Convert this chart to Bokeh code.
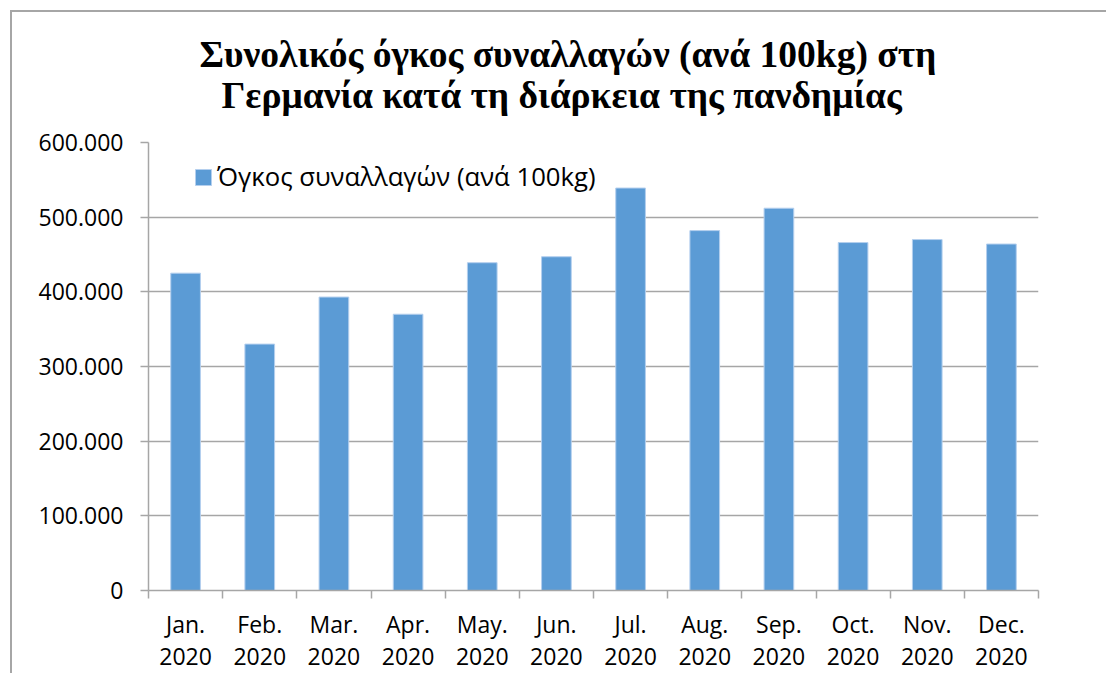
from bokeh.plotting import figure
from bokeh.models import FixedTicker, Range1d, ColumnDataSource, Title
from bokeh.embed import file_html
from bokeh.resources import INLINE

# ---- data ----
months = ["Jan.\n2020", "Feb.\n2020", "Mar.\n2020", "Apr.\n2020", "May.\n2020", "Jun.\n2020",
          "Jul.\n2020", "Aug.\n2020", "Sep.\n2020", "Oct.\n2020", "Nov.\n2020", "Dec.\n2020"]
volume = [425000, 330000, 393000, 370000, 439000, 447000,
          539000, 482000, 512000, 466000, 470000, 464000]
y_ticks = [0, 100000, 200000, 300000, 400000, 500000, 600000]
y_tick_labels = ["0", "100.000", "200.000", "300.000", "400.000", "500.000", "600.000"]
series_name = "Όγκος συναλλαγών (ανά 100kg)"
title_lines = ["Συνολικός όγκος συναλλαγών (ανά 100kg) στη",
               "Γερμανία κατά τη διάρκεια της πανδημίας"]

n = len(months)
centers = [i + 0.5 for i in range(n)]
edges = [float(i) for i in range(n + 1)]

LABEL_FONT = "Open Sans"
GRID = "#a6a6a6"
TXT = "#000000"

p = figure(width=1096, height=663, output_backend="svg", toolbar_location=None,
           x_range=Range1d(0, n), y_range=Range1d(y_ticks[0], y_ticks[-1]),
           min_border_left=136, min_border_right=70, min_border_bottom=85, min_border_top=130,
           background_fill_color="white", border_fill_color="white", outline_line_color=None,
           styles={"margin-left": "10px", "margin-top": "10px",
                   "border-left": "2px solid #a6a6a6", "border-top": "2px solid #a6a6a6"})

# title: second line closest to the frame, first line above it
title_offsets = [51, 73]
title_standoffs = [-57, 53]
for line, off, so in reversed(list(zip(title_lines, title_offsets, title_standoffs))):
    p.add_layout(Title(text=line, align="left", offset=off, standoff=so,
                       text_font="Liberation Serif", text_font_style="bold",
                       text_font_size="37.5px", text_color=TXT), "above")

src = ColumnDataSource(dict(x=centers, top=volume))
p.vbar(x="x", top="top", width=0.4, bottom=0, source=src, fill_color="#5b9bd5",
       line_color="#b4cfee", line_width=1, legend_label=series_name)

# y axis
p.yaxis.ticker = FixedTicker(ticks=y_ticks)
p.yaxis.major_label_overrides = {t: l for t, l in zip(y_ticks, y_tick_labels)}
p.yaxis.major_label_text_font = LABEL_FONT
p.yaxis.major_label_text_font_size = "23px"
p.yaxis.major_label_text_color = TXT
p.yaxis.axis_line_color = GRID
p.yaxis.axis_line_width = 1.5
p.yaxis.major_tick_line_color = GRID
p.yaxis.major_tick_line_width = 1.5
p.yaxis.major_tick_out = 8
p.yaxis.major_tick_in = 0
p.yaxis.minor_tick_line_color = None
p.yaxis.major_label_standoff = 17

# x axis
p.xaxis.ticker = FixedTicker(ticks=centers, minor_ticks=edges)
p.xaxis.major_label_overrides = {c: m for c, m in zip(centers, months)}
p.xaxis.major_label_text_font = LABEL_FONT
p.xaxis.major_label_text_font_size = "23px"
p.xaxis.major_label_text_color = TXT
p.xaxis.major_label_text_line_height = 1.0
p.xaxis.axis_line_color = GRID
p.xaxis.axis_line_width = 1.5
p.xaxis.major_tick_line_color = None
p.xaxis.minor_tick_line_color = GRID
p.xaxis.minor_tick_line_width = 1.5
p.xaxis.minor_tick_out = 8
p.xaxis.minor_tick_in = 0
p.xaxis.major_label_standoff = 9

p.xgrid.grid_line_color = None
p.ygrid.grid_line_color = GRID
p.ygrid.grid_line_width = 1.5

# legend
lg = p.legend[0]
lg.location = (45, 396)
lg.border_line_color = None
lg.background_fill_alpha = 0
lg.padding = 0
lg.margin = 0
lg.glyph_width = 20
lg.glyph_height = 20
lg.label_standoff = 4
lg.label_text_font = LABEL_FONT
lg.label_text_font_size = "25.7px"
lg.label_text_color = TXT

open("out.html", "w").write(file_html(p, INLINE))
